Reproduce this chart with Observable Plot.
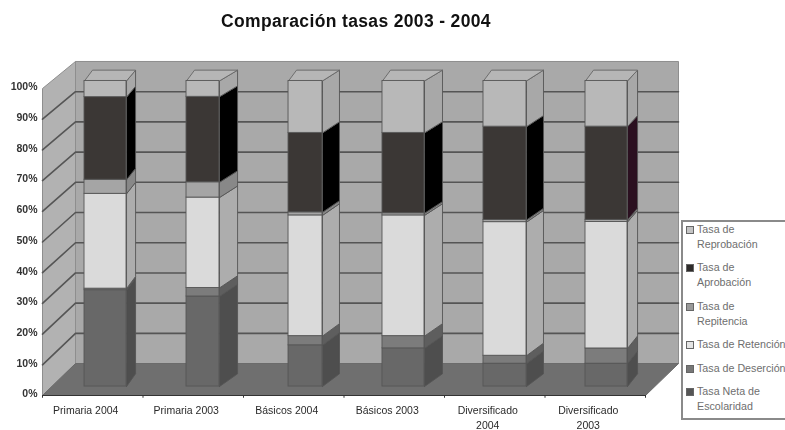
<!DOCTYPE html>
<html lang="es">
<head>
<meta charset="utf-8">
<script src="https://cdn.jsdelivr.net/npm/d3@7"></script>
<script src="https://cdn.jsdelivr.net/npm/@observablehq/plot@0.6"></script>
<style>
html,body{margin:0;padding:0;background:#fff;width:785px;height:430px;overflow:hidden;}
#wrap{position:relative;width:785px;height:430px;overflow:hidden;filter:blur(0.7px);font-family:"Liberation Sans",Arial,sans-serif;}
#title{position:absolute;left:0;width:712px;top:11px;text-align:center;font-weight:700;font-size:17.5px;letter-spacing:.35px;color:#111;}
#legend{position:absolute;left:681px;top:220px;width:120px;height:196px;border:2px solid #8a8a8a;background:#fff;box-sizing:content-box;display:flex;flex-direction:column;justify-content:flex-start;gap:8.4px;}
#legend .it{display:flex;align-items:flex-start;}
#legend .sw{width:6px;height:6px;border:1px solid #666;margin:4px 3px 0 3px;flex:none;}
#legend .tx{font-size:10.7px;line-height:15px;color:#6e6e6e;width:100px;white-space:pre;}
svg{display:block;}
</style>
</head>
<body>
<div id="wrap">
<div id="title">Comparación tasas 2003 - 2004</div>
<div id="chart"></div>
<div id="legend"></div>
</div>
<script>
// Data (percent of each group)
const categories = ["Primaria 2004","Primaria 2003","Básicos 2004","Básicos 2003","Diversificado\n2004","Diversificado\n2003"];
const tasaEscolaridad = [31.5,29.5,13.5,12.5,7.5,7.5];
const tasaDesercion   = [0.5,2.8,3,4,2.6,5];
const tasaRetencion   = [31,29.6,39.5,39.5,43.8,41.5];
const tasaRepitencia  = [4.6,5,1,0.7,0.7,0.7];
const tasaAprobacion  = [27,28,26,26.3,30.6,30.6];
const tasaReprobacion = [5.3,5.2,17,17,15,15];
const yTicks = [0,10,20,30,40,50,60,70,80,90,100];

const seriesNames = ["Tasa Neta de\nEscolaridad","Tasa de Deserción","Tasa de Retención","Tasa de\nRepitencia","Tasa de\nAprobación","Tasa de\nReprobación"];
const seriesValues = [tasaEscolaridad,tasaDesercion,tasaRetencion,tasaRepitencia,tasaAprobacion,tasaReprobacion];
const frontColors = ["#686868","#7c7c7c","#dadada","#a5a5a5","#3b3735","#b8b8b8"];
const sideColors  = ["#4e4e4e","#5e5e5e","#adadad","#888888","#000000","#a8a8a8"];
const legendColors = ["#555555","#777777","#e4e4e4","#999999","#2e2b2a","#c4c4c4"];

// Pseudo-3D layout, expressed in the units of the scales
const backShift = 33 / 100.5;          // how far the back wall slides along x
const backRise = 10.4;                 // how far it slides along y
const backScale = 0.984;               // perspective shrink
const barFront = 0.28, barBack = 0.68; // bar depth within the box
const barLeft  = [0.418,1.433,2.448,3.383,4.388,5.403];
const barFace  = [0.418,0.328,0.338,0.418,0.428,0.418];
const barSide  = [0.090,0.180,0.169,0.179,0.169,0.100];
const topInset = 0.08;

const py = (p,d) => backRise*d + p*(1-(1-backScale)*d);
const px = (x,d) => x + backShift*d;

const polys = [];
function poly(fill, stroke, pts){
  const id = polys.length ? polys[polys.length-1].id+1 : 0;
  pts.concat([pts[0]]).forEach(([x,y]) => polys.push({id,x,y,fill,stroke}));
}
// walls and floor
poly("#a9a9a9","#8e8e8e",[[px(0,1),py(0,1)],[px(6,1),py(0,1)],[px(6,1),py(100,1)],[px(0,1),py(100,1)]]);
poly("#b2b2b2","#8e8e8e",[[px(0,0),py(0,0)],[px(0,1),py(0,1)],[px(0,1),py(100,1)],[px(0,0),py(100,0)]]);
poly("#6f6f6f","#6a6a6a",[[px(0,0),py(0,0)],[px(6,0),py(0,0)],[px(6,1),py(0,1)],[px(0,1),py(0,1)]]);

const grid = [];
yTicks.slice(1,-1).forEach(t => {
  grid.push({t,x:px(0,0),y:py(t,0)},{t,x:px(0,1),y:py(t,1)},{t,x:px(6,1),y:py(t,1)});
});

// bars: stacked share, drawn from the bottom up
const fronts = [];
categories.forEach((c,i) => {
  const total = d3.sum(seriesValues, s => s[i]);
  let acc = 0;
  const L = barLeft[i], R = L+barFace[i], S = R+barSide[i];
  seriesValues.forEach((s,k) => {
    const p0 = acc/total*100; acc += s[i]; const p1 = acc/total*100;
    const side = (k===4 && i===5) ? "#2b1020" : sideColors[k];
    poly(side,"#555",[[R,py(p0,barFront)],[S,py(p0,barBack)],[S,py(p1,barBack)],[R,py(p1,barFront)]]);
    fronts.push({x1:L,x2:R,y1:py(p0,barFront),y2:py(p1,barFront),fill:frontColors[k]});
  });
  poly("#b6b6b6","#666",[[L,py(100,barFront)],[R,py(100,barFront)],[S,py(100,barBack)],[L+topInset,py(100,barBack)]]);
});

const wallPolys = polys.filter(d => d.id<3);
const barPolys = polys.filter(d => d.id>=3);

const chart = Plot.plot({
  width:785, height:430,
  marginLeft:42, marginRight:140, marginTop:88, marginBottom:35,
  style:{fontFamily:'"Liberation Sans",Arial,sans-serif', background:"transparent"},
  x:{domain:[0,6], axis:null},
  y:{domain:[0,100], axis:null},
  color:{type:"identity"},
  marks:[
    Plot.line(wallPolys,{x:"x",y:"y",z:"id",fill:"fill",stroke:"stroke",strokeWidth:1,curve:"linear"}),
    Plot.line(grid,{x:"x",y:"y",z:"t",stroke:"#555",strokeWidth:1.6,curve:"linear"}),
    Plot.line(barPolys,{x:"x",y:"y",z:"id",fill:"fill",stroke:"stroke",strokeWidth:0.9,curve:"linear"}),
    Plot.rect(fronts,{x1:"x1",x2:"x2",y1:"y1",y2:"y2",fill:"fill",stroke:"#565656",strokeWidth:0.9,inset:0}),
    Plot.ruleY([0],{stroke:"#333",strokeWidth:1.2}),
    Plot.ruleX([0,1,2,3,4,5,6],{y1:0,y2:-0.9,stroke:"#333",strokeWidth:1}),
    Plot.axisY(yTicks,{tickSize:0,tickPadding:5,tickFormat:d=>d+"%",fontSize:10.5,fontWeight:700,fill:"#333",anchor:"left",label:null,dy:-1.5}),
    Plot.text(categories,{x:(d,i)=>i+0.5,y:()=>0,text:d=>d,dx:-7,dy:8,lineAnchor:"top",fontSize:10.5,lineHeight:1.4,fill:"#2a2a2a",textAnchor:"middle"})
  ]
});
document.getElementById("chart").appendChild(chart);

const lg = d3.select("#legend");
d3.range(5,-1,-1).forEach(k => {
  const it = lg.append("div").attr("class","it");
  it.append("div").attr("class","sw").style("background",legendColors[k]);
  it.append("div").attr("class","tx").text(seriesNames[k]);
});
</script>
</body>
</html>
